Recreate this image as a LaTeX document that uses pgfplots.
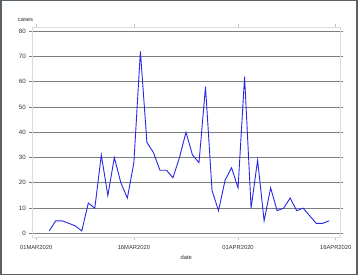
\documentclass[border=0pt]{standalone}
\usepackage{pgfplots}
\pgfplotsset{compat=1.18}
\usepackage{fontspec}
\setmainfont{Liberation Sans}
\definecolor{bordc}{RGB}{90,96,104}
\definecolor{gridc}{RGB}{125,125,125}
\definecolor{framec}{RGB}{220,220,220}
\definecolor{linec}{RGB}{40,40,230}
\definecolor{txtc}{RGB}{50,50,50}
\pgfplotstableread{
d v
2 1
3 5
4 5
5 4
6 3
7 1
8 12
9 10
10 31
11 15
12 30
13 20
14 14
15 28
16 72
17 36
18 32
19 25
20 25
21 22
22 30
23 40
24 31
25 28
26 58
27 17
28 9
29 21
30 26
31 18
32 62
33 10
34 29
35 5
36 18
37 9
38 10
39 14
40 9
41 10
42 7
43 4
44 4
45 5
}\cases
\begin{document}
\begin{tikzpicture}
\useasboundingbox (0pt,0pt) rectangle (360pt,276pt);
\fill[white] (0pt,0pt) rectangle (360pt,276pt);
\draw[bordc, line width=1.5pt] (0.75pt,1.25pt) rectangle (357pt,275.25pt);
\begin{axis}[
  at={(32.3pt,39pt)}, anchor=south west,
  scale only axis, width=308pt, height=210pt,
  xmin=-0.6, xmax=46.7, ymin=-1.4, ymax=81.6,
  axis line style={framec, line width=0.8pt},
  xtick={0,15,31,46},
  xticklabels={01MAR2020,16MAR2020,01APR2020,16APR2020},
  ytick={0,10,...,80},
  ymajorgrids,
  grid style={gridc, line width=0.8pt},
  tick align=outside,
  xtick style={framec!70!gray, line width=0.6pt},
  ytick style={gridc, line width=0.8pt},
  major tick length=3pt,
  x tick label style={font=\fontsize{5.8}{7}\selectfont, text=txtc, yshift=-2pt},
  y tick label style={font=\fontsize{6.2}{7}\selectfont, text=txtc},
  /pgf/number format/assume math mode=true,
  xlabel={date}, ylabel={cases},
  every axis x label/.style={at={(axis description cs:0.5,0)}, anchor=center, yshift=-20pt, font=\fontsize{5.8}{7}\selectfont, text=txtc},
  every axis y label/.style={at={(axis description cs:-0.022,1)}, anchor=center, yshift=7pt, font=\fontsize{5.8}{7}\selectfont, text=txtc},
  clip=false,
]
\addplot[linec, line width=0.9pt, mark=none] table[x=d, y=v] {\cases};
\end{axis}
\end{tikzpicture}
\end{document}
